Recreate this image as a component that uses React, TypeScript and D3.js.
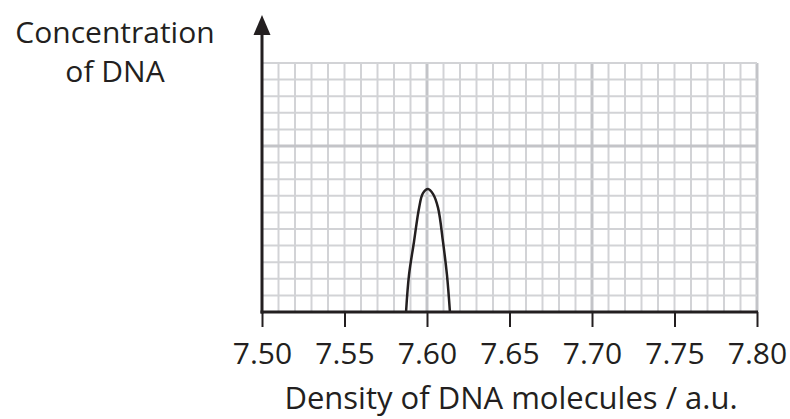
import React, { useEffect, useRef } from 'react';
import * as d3 from 'd3';

// x axis ticks (density, a.u.)
const densityTicks = [7.5, 7.55, 7.6, 7.65, 7.7, 7.75, 7.8];

// peak (y in grid squares)
const peakDensity = [7.5873, 7.5891, 7.5921, 7.5952, 7.5975, 7.6006, 7.6037, 7.6067, 7.6097, 7.6121, 7.6139];
const peakConcentration = [0, 2.23, 4.22, 6.27, 7.15, 7.41, 7.1, 6.27, 4.22, 2.23, 0];

const yLabelLines = ['Concentration', 'of DNA'];
const xLabel = 'Density of DNA molecules / a.u.';

const width = 790;
const height = 419;
const font = '"Open Sans", "DejaVu Sans", sans-serif';

export default function App() {
  const ref = useRef<SVGSVGElement>(null);

  useEffect(() => {
    const svg = d3.select(ref.current);
    svg.selectAll('*').remove();

    const pad = { left: 262, right: 33, top: 63, bottom: 107 };

    const xScale = d3
      .scaleLinear()
      .domain([7.5, 7.8])
      .range([pad.left, width - pad.right]);

    // y measured in small squares, 15 of them
    const yScale = d3
      .scaleLinear()
      .domain([0, 15])
      .range([height - pad.bottom, pad.top]);

    const grid = svg.append('g');
    const cols = d3.range(1, 31).map((i) => 7.5 + i * 0.01);
    const rows = d3.range(1, 16);

    grid
      .selectAll('line.v')
      .data(cols)
      .enter()
      .append('line')
      .attr('x1', (d) => xScale(d))
      .attr('x2', (d) => xScale(d))
      .attr('y1', yScale(0))
      .attr('y2', yScale(15))
      .attr('stroke', (d, i) => ((i + 1) % 10 === 0 ? '#c3c4c8' : '#d2d3d6'))
      .attr('stroke-width', (d, i) => ((i + 1) % 10 === 0 ? 3 : 2));

    grid
      .selectAll('line.h')
      .data(rows)
      .enter()
      .append('line')
      .attr('x1', xScale(7.5))
      .attr('x2', xScale(7.8))
      .attr('y1', (d) => yScale(d))
      .attr('y2', (d) => yScale(d))
      .attr('stroke', (d) => (d % 10 === 0 ? '#c3c4c8' : '#d2d3d6'))
      .attr('stroke-width', (d) => (d % 10 === 0 ? 3 : 2));

    // the peak
    const points: [number, number][] = peakDensity.map((d, i) => [d, peakConcentration[i]]);
    const line = d3
      .line<[number, number]>()
      .x((d) => xScale(d[0]))
      .y((d) => yScale(d[1]))
      .curve(d3.curveCatmullRom.alpha(0.5));

    svg
      .append('path')
      .attr('d', line(points)!)
      .attr('fill', 'none')
      .attr('stroke', '#231f20')
      .attr('stroke-width', 2.5);

    // x axis
    const xAxis = svg
      .append('g')
      .attr('transform', `translate(0,${yScale(0)})`)
      .call(
        d3
          .axisBottom(xScale)
          .tickValues(densityTicks)
          .tickSize(15)
          .tickPadding(16)
          .tickFormat(d3.format('.2f'))
      );
    xAxis.select('.domain').remove();
    xAxis.selectAll('.tick line').attr('stroke', '#231f20').attr('stroke-width', 2);
    xAxis
      .selectAll('.tick text')
      .attr('fill', '#231f20')
      .style('font-family', font)
      .style('font-size', '30px');

    svg
      .append('line')
      .attr('x1', xScale(7.5) - 1.5)
      .attr('x2', xScale(7.8) + 1)
      .attr('y1', yScale(0))
      .attr('y2', yScale(0))
      .attr('stroke', '#231f20')
      .attr('stroke-width', 3);

    // y axis with arrow
    const ax = xScale(7.5);
    svg
      .append('line')
      .attr('x1', ax)
      .attr('x2', ax)
      .attr('y1', yScale(0) + 1.5)
      .attr('y2', 32)
      .attr('stroke', '#231f20')
      .attr('stroke-width', 3);
    svg
      .append('path')
      .attr('d', `M${ax},15 L${ax + 8.5},35 L${ax - 8.5},35 Z`)
      .attr('fill', '#231f20');

    // labels
    svg
      .append('text')
      .attr('text-anchor', 'middle')
      .attr('fill', '#231f20')
      .style('font-family', font)
      .style('font-size', '30px')
      .selectAll('tspan')
      .data(yLabelLines)
      .enter()
      .append('tspan')
      .attr('x', 115)
      .attr('y', (d, i) => 43 + i * 39)
      .text((d) => d);

    svg
      .append('text')
      .attr('x', 511)
      .attr('y', 409)
      .attr('text-anchor', 'middle')
      .attr('fill', '#231f20')
      .style('font-family', font)
      .style('font-size', '31px')
      .text(xLabel);
  }, []);

  return (
    <div style={{ position: 'absolute', left: 0, top: 0 }}>
      <svg ref={ref} width={width} height={height} style={{ display: 'block', background: '#fff' }} />
    </div>
  );
}
